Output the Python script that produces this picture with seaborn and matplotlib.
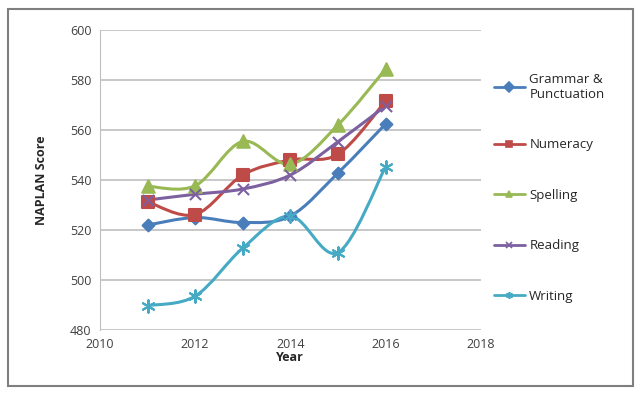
import numpy as np
import pandas as pd
import seaborn as sns
import matplotlib.pyplot as plt
from matplotlib.path import Path
from matplotlib.patches import PathPatch, Rectangle
from matplotlib.lines import Line2D

years = [2011, 2012, 2013, 2014, 2015, 2016]
grammar = [522, 525, 523, 525.6, 542.8, 562.4]
numeracy = [531.3, 526.2, 542, 548, 550.3, 571.5]
spelling = [537.5, 537.7, 555.4, 546.3, 562, 584.3]
reading = [532, 534.3, 536.4, 542, 555.3, 569.6]
writing = [489.8, 493.6, 512.8, 525.6, 511, 545.2]

labels = ["Grammar &\nPunctuation", "Numeracy", "Spelling", "Reading", "Writing"]
series = [grammar, numeracy, spelling, reading, writing]
colors = ["#4A7EBB", "#BE4B48", "#98B954", "#7D60A0", "#46AAC5"]
markers = ["D", "s", "^", "x", (6, 2, 0)]
msizes = [6, 9, 9, 8, 9]

df = pd.DataFrame({"Year": years * 5,
                   "Score": sum(series, []),
                   "Subject": sum([[l] * len(years) for l in labels], [])})

sns.set_style("white")
plt.rcParams["font.family"] = ["Open Sans", "DejaVu Sans"]

fig = plt.figure(figsize=(6.41, 3.93), dpi=100)
ax = fig.add_axes([0.156, 0.160, 0.594, 0.764])


def smooth_path(x, y):
    # Excel-style smoothed line: cubic bezier through the points
    pts = np.column_stack([x, y]).astype(float)
    verts = [pts[0]]
    codes = [Path.MOVETO]
    n = len(pts)
    for i in range(n - 1):
        p0 = pts[i - 1] if i > 0 else pts[i]
        p1 = pts[i]
        p2 = pts[i + 1]
        p3 = pts[i + 2] if i + 2 < n else pts[i + 1]
        c1 = p1 + (p2 - p0) / 6
        c2 = p2 - (p3 - p1) / 6
        verts += [c1, c2, p2]
        codes += [Path.CURVE4] * 3
    return Path(verts, codes)


for lab, vals, c in zip(labels, series, colors):
    ax.add_patch(PathPatch(smooth_path(years, vals), facecolor="none",
                           edgecolor=c, lw=2.2, zorder=2))

for lab, c, m, s in zip(labels, colors, markers, msizes):
    sub = df[df["Subject"] == lab]
    sns.scatterplot(data=sub, x="Year", y="Score", marker=m, color=c,
                    s=s ** 2, edgecolor=c, linewidth=1.5, ax=ax,
                    zorder=3, legend=False)

ax.set_xlim(2010, 2018)
ax.set_ylim(480, 600)
ax.set_xticks([2010, 2012, 2014, 2016, 2018])
ax.set_yticks(range(480, 601, 20))
ax.yaxis.grid(True, color="#BFBFBF", lw=1.2)
ax.xaxis.grid(False)
for sp in ["top", "right", "bottom"]:
    ax.spines[sp].set_visible(False)
ax.spines["left"].set_color("#BFBFBF")
ax.tick_params(axis="both", labelsize=9, colors="#404040", length=0, pad=6)
ax.set_xlabel("Year", fontsize=9, fontweight="bold", labelpad=0)
ax.set_ylabel("NAPLAN Score", fontsize=9, fontweight="bold", labelpad=16)

handles = [Line2D([0], [0], color=c, lw=2, marker=m, markersize=5,
                  markeredgecolor=c, markeredgewidth=1.2)
           for c, m in zip(colors, markers)]
ax.legend(handles, labels, loc="upper left", bbox_to_anchor=(1.02, 0.875),
          frameon=False, fontsize=9.5, labelspacing=2.85, handlelength=2.4,
          handletextpad=0.3, borderaxespad=0)

fig.patches.append(Rectangle((0.013, 0.018), 0.975, 0.958, transform=fig.transFigure,
                             fill=False, edgecolor="#7F7F7F", lw=1.5))

fig.savefig("out.png", dpi=100)
